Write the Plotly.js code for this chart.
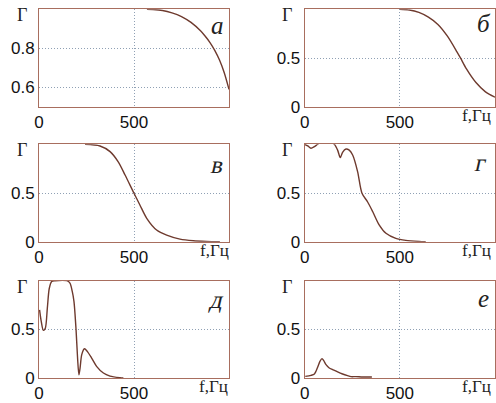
<!DOCTYPE html>
<html><head><meta charset="utf-8">
<script src="https://cdn.plot.ly/plotly-3.0.1.min.js"></script>
<style>html,body{margin:0;padding:0;background:#fff}#chart{width:496px;height:403px}</style>
</head><body><div id="chart"></div>
<script>
// Panel data: frequency f (Hz) and reflection coefficient Γ
const fA = [568, 600, 650, 700, 750, 800, 850, 875, 900, 925, 950, 975, 1000];
const gA = [1.0, 0.999, 0.994, 0.982, 0.963, 0.933, 0.89, 0.862, 0.83, 0.79, 0.74, 0.675, 0.59];

const fB = [500, 550, 600, 650, 700, 750, 800, 820, 850, 900, 950, 1000];
const gB = [1.0, 0.993, 0.968, 0.92, 0.845, 0.725, 0.565, 0.497, 0.39, 0.25, 0.155, 0.10];

const fV = [242, 321, 374, 417, 453, 500, 531, 567, 619, 672, 742, 812, 882, 952];
const gV = [1.0, 0.983, 0.925, 0.82, 0.685, 0.497, 0.377, 0.24, 0.12, 0.068, 0.027, 0.01, 0.003, 0.0];

const fG = [0, 16, 33, 51, 68, 90, 130, 156, 173, 187, 199, 217, 234, 252, 278, 301, 330, 357, 392, 427, 479, 531, 601, 636];
const gG = [1.0, 0.983, 0.96, 0.976, 1.0, 1.03, 1.03, 1.0, 0.94, 0.863, 0.918, 0.952, 0.94, 0.89, 0.72, 0.497, 0.41, 0.31, 0.17, 0.086, 0.034, 0.014, 0.003, 0.0];

const fD = [3, 12, 23, 33, 44, 54, 67, 84, 146, 163, 175, 184, 195, 203, 210, 216, 225, 239, 254, 277, 303, 339, 374, 426, 444];
const gD = [0.70, 0.58, 0.49, 0.51, 0.72, 0.92, 0.993, 1.0, 1.0, 0.976, 0.89, 0.788, 0.497, 0.205, 0.034, 0.10, 0.24, 0.30, 0.274, 0.205, 0.12, 0.051, 0.02, 0.003, 0.0];

const fE = [3, 33, 51, 68, 80, 91, 100, 112, 129, 147, 173, 199, 225, 243, 269, 304, 353];
const gE = [0.017, 0.027, 0.041, 0.11, 0.17, 0.199, 0.178, 0.137, 0.103, 0.086, 0.062, 0.041, 0.024, 0.014, 0.014, 0.01, 0.01];

const panelLetters = ['a', 'б', 'в', 'г', 'д', 'е'];
const letterItalic = [true, true, false, false, false, true]; // others drawn upright then slanted
const yLabel = 'Γ';
const xLabel = 'f,Гц';
const xTicks = [0, 500];
const xTickText = ['0', '500'];
const yTicksA = [0.6, 0.8];
const yTickTextA = ['0.6', '0.8'];
const yTicks = [0, 0.5];
const yTickText = ['0', '0.5'];

const series = [[fA, gA], [fB, gB], [fV, gV], [fG, gG], [fD, gD], [fE, gE]];

const lineColor = '#6e3a2e';
const frameColor = '#a86e5e';
const gridColor = '#8fa0b4';
const serif = 'Liberation Serif, Times New Roman, serif';

const colDom = [[39/496, 229/496], [304.7/496, 495/496]];
const rowDom = [[1-107/403, 1-9.3/403], [1-241.7/403, 1-144.3/403], [1-378/403, 1-280.7/403]];

const letterPos = [[0.937, 0.83], [0.94, 0.855], [0.94, 0.79], [0.926, 0.81], [0.94, 0.805], [0.94, 0.82]];
const xLabPos = [null, 0.903, 0.926, 0.903, 0.916, 0.903];

const traces = [];
const slantIdx = [];
const layout = {
  width: 496, height: 403,
  margin: {l: 0, r: 0, t: 0, b: 0},
  paper_bgcolor: '#fff', plot_bgcolor: '#fff',
  showlegend: false,
  font: {family: 'Liberation Sans, Arial, sans-serif', size: 17, color: '#111'},
  annotations: []
};

series.forEach((s, i) => {
  const n = i + 1;
  const xa = n === 1 ? 'x' : 'x' + n;
  const ya = n === 1 ? 'y' : 'y' + n;
  traces.push({
    x: s[0], y: s[1], xaxis: xa, yaxis: ya,
    type: 'scatter', mode: 'lines',
    line: {color: lineColor, width: 1.4, shape: 'spline', smoothing: 0.8},
    hoverinfo: 'skip'
  });
  const col = i % 2, row = Math.floor(i / 2);
  const xKey = n === 1 ? 'xaxis' : 'xaxis' + n;
  const yKey = n === 1 ? 'yaxis' : 'yaxis' + n;
  layout[xKey] = {
    domain: colDom[col], anchor: ya, range: [0, 1000],
    tickmode: 'array', tickvals: xTicks, ticktext: xTickText,
    showline: true, mirror: true, linecolor: frameColor, linewidth: 1,
    showgrid: true, gridcolor: gridColor, griddash: '1px,2px', gridwidth: 1,
    zeroline: false, ticks: '', fixedrange: true,
    tickfont: {size: 17, color: '#111'}
  };
  layout[yKey] = {
    domain: rowDom[row], anchor: xa,
    range: i === 0 ? [0.5, 1.0] : [0, 1.0],
    tickmode: 'array',
    tickvals: i === 0 ? yTicksA : yTicks,
    ticktext: i === 0 ? yTickTextA : yTickText,
    showline: true, mirror: true, linecolor: frameColor, linewidth: 1,
    showgrid: true, gridcolor: gridColor, griddash: '1px,2px', gridwidth: 1,
    zeroline: false, ticks: '', fixedrange: true,
    tickfont: {size: 17, color: '#111'}
  };
  layout.annotations.push({
    xref: xa + ' domain', yref: ya + ' domain',
    x: -0.092, y: 0.937, text: yLabel, showarrow: false,
    xanchor: 'center', yanchor: 'middle',
    font: {family: serif, size: 18, color: '#222'}
  });
  if (!letterItalic[i]) slantIdx.push(layout.annotations.length);
  layout.annotations.push({
    xref: xa + ' domain', yref: ya + ' domain',
    x: letterPos[i][0], y: letterPos[i][1],
    text: letterItalic[i] ? '<i>' + panelLetters[i] + '</i>' : panelLetters[i],
    showarrow: false, xanchor: 'center', yanchor: 'middle',
    font: {family: serif, size: 25, color: '#222'}
  });
  if (xLabPos[i] !== null) {
    layout.annotations.push({
      xref: xa + ' domain', yref: ya + ' domain',
      x: xLabPos[i], y: -0.092, text: xLabel, showarrow: false,
      xanchor: 'center', yanchor: 'middle',
      font: {family: serif, size: 17, color: '#222'}
    });
  }
});

Plotly.newPlot('chart', traces, layout, {staticPlot: true, displayModeBar: false}).then(gd => {
  slantIdx.forEach(k => {
    const t = gd.querySelector('.annotation[data-index="' + k + '"] text');
    if (t) {
      t.style.transformBox = 'fill-box';
      t.style.transformOrigin = 'center';
      t.style.transform = 'skewX(-13deg)';
    }
  });
});
</script></body></html>
